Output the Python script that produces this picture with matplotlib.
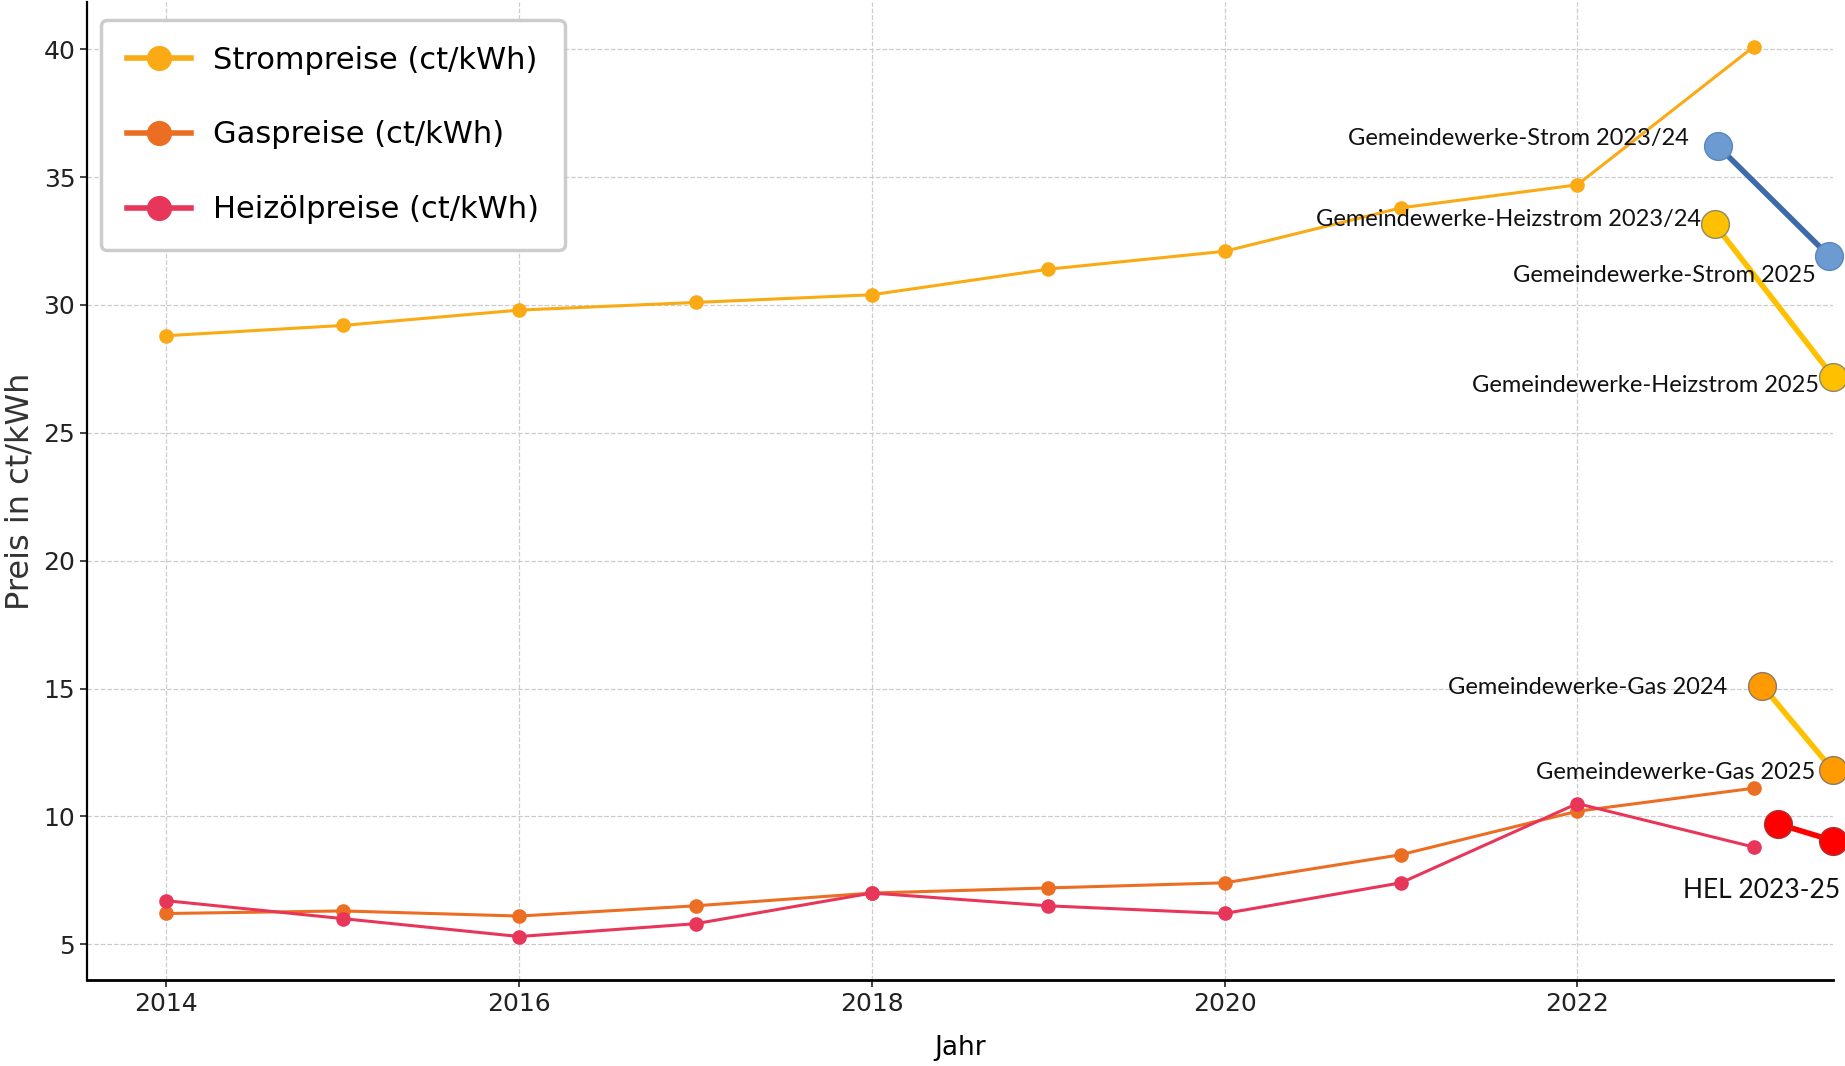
import matplotlib
matplotlib.use("Agg")
import matplotlib.pyplot as plt
from matplotlib import font_manager

# pick a narrow font if one is installed
names = {f.name for f in font_manager.fontManager.ttflist}
narrow = next((n for n in ["Liberation Sans Narrow", "DejaVu Sans Condensed", "DejaVu Sans"] if n in names), "DejaVu Sans")
label_font = next((n for n in ["Liberation Sans Narrow", "Lato", "DejaVu Sans"] if n in names), "DejaVu Sans")

# data
jahre = [2014, 2015, 2016, 2017, 2018, 2019, 2020, 2021, 2022, 2023]
strom = [28.8, 29.2, 29.8, 30.1, 30.4, 31.4, 32.1, 33.8, 34.7, 40.1]
gas = [6.2, 6.3, 6.1, 6.5, 7.0, 7.2, 7.4, 8.5, 10.2, 11.1]
heizoel = [6.7, 6.0, 5.3, 5.8, 7.0, 6.5, 6.2, 7.4, 10.5, 8.8]

# Gemeindewerke overlay points
gw_strom_x = [2022.8, 2023.43]
gw_strom_y = [36.2, 31.9]
gw_heiz_x = [2022.78, 2023.45]
gw_heiz_y = [33.15, 27.2]
gw_gas_x = [2023.05, 2023.45]
gw_gas_y = [15.1, 11.8]
hel_x = [2023.14, 2023.45]
hel_y = [9.7, 9.05]

fig = plt.figure(figsize=(18.45, 10.66), dpi=100)
ax = fig.add_axes([0.0472, 0.0807, 0.9463, 0.9174])

ax.plot(jahre, strom, color='#FAAA14', lw=2.2, marker='o', ms=9.5, label='Strompreise (ct/kWh)')
ax.plot(jahre, gas, color='#EB6E23', lw=2.2, marker='o', ms=9.5, label='Gaspreise (ct/kWh)')
ax.plot(jahre, heizoel, color='#E8365A', lw=2.2, marker='o', ms=9.5, label='Heizölpreise (ct/kWh)')

# overlay markers and lines
ax.plot(gw_strom_x, gw_strom_y, color='#3D6BAA', lw=4, marker='o', ms=20,
        mfc='#6C9BD2', mec='#5A86C0', clip_on=False, zorder=5)
ax.plot(gw_heiz_x, gw_heiz_y, color='#FFC000', lw=4, marker='o', ms=20,
        mfc='#FFC000', mec='#8A8A6A', clip_on=False, zorder=5)
ax.plot(gw_gas_x, gw_gas_y, color='#FFC000', lw=4, marker='o', ms=20,
        mfc='#FF9A00', mec='#8A7A6A', clip_on=False, zorder=5)
ax.plot(hel_x, hel_y, color='#FF0000', lw=4, marker='o', ms=20,
        mfc='#FF0000', mec='#B03030', clip_on=False, zorder=5)

# annotation labels
ann = dict(ha='right', va='center', fontsize=17, family=label_font, color='#111111', zorder=6)
ax.text(2022.63, 36.5, 'Gemeindewerke-Strom 2023/24', **ann)
ax.text(2022.7, 33.33, 'Gemeindewerke-Heizstrom 2023/24', **ann)
ax.text(2023.35, 31.17, 'Gemeindewerke-Strom 2025', **ann)
ax.text(2023.37, 26.84, 'Gemeindewerke-Heizstrom 2025', **ann)
ax.text(2022.85, 15.02, 'Gemeindewerke-Gas 2024', **ann)
ax.text(2023.35, 11.7, 'Gemeindewerke-Gas 2025', **ann)
ax.text(2023.49, 7.1, 'HEL 2023-25', ha='right', va='center', fontsize=19,
        family=label_font, color='#111111', zorder=6, clip_on=False)

ax.set_xlim(2013.55, 2023.45)
ax.set_ylim(3.6, 41.85)
ax.set_xticks([2014, 2016, 2018, 2020, 2022])
ax.set_yticks([5, 10, 15, 20, 25, 30, 35, 40])
ax.tick_params(labelsize=18, length=5, width=1.2, colors='#222222')
for lab in ax.get_xticklabels() + ax.get_yticklabels():
    lab.set_family(narrow)

ax.grid(True, linestyle='--', color='#CCCCCC', lw=0.9)
ax.spines['top'].set_visible(False)
ax.spines['right'].set_visible(False)
ax.spines['left'].set_linewidth(1.6)
ax.spines['bottom'].set_linewidth(2)

ax.set_xlabel('Jahr', fontsize=19, family=narrow, labelpad=14)
ax.set_ylabel('Preis in ct/kWh', fontsize=23, family='DejaVu Sans', color='#333333', labelpad=6)

leg = ax.legend(loc='upper left', bbox_to_anchor=(0.008, 0.982), borderaxespad=0,
                prop={'family': narrow, 'size': 22}, handlelength=2.1, handletextpad=0.7,
                borderpad=0.85, labelspacing=1.5, markerscale=1.8,
                frameon=True, fancybox=True, framealpha=1)
leg.get_frame().set_edgecolor('#CCCCCC')
leg.get_frame().set_linewidth(2.5)
for line in leg.get_lines():
    line.set_linewidth(4)

fig.savefig('out.png', dpi=100)
